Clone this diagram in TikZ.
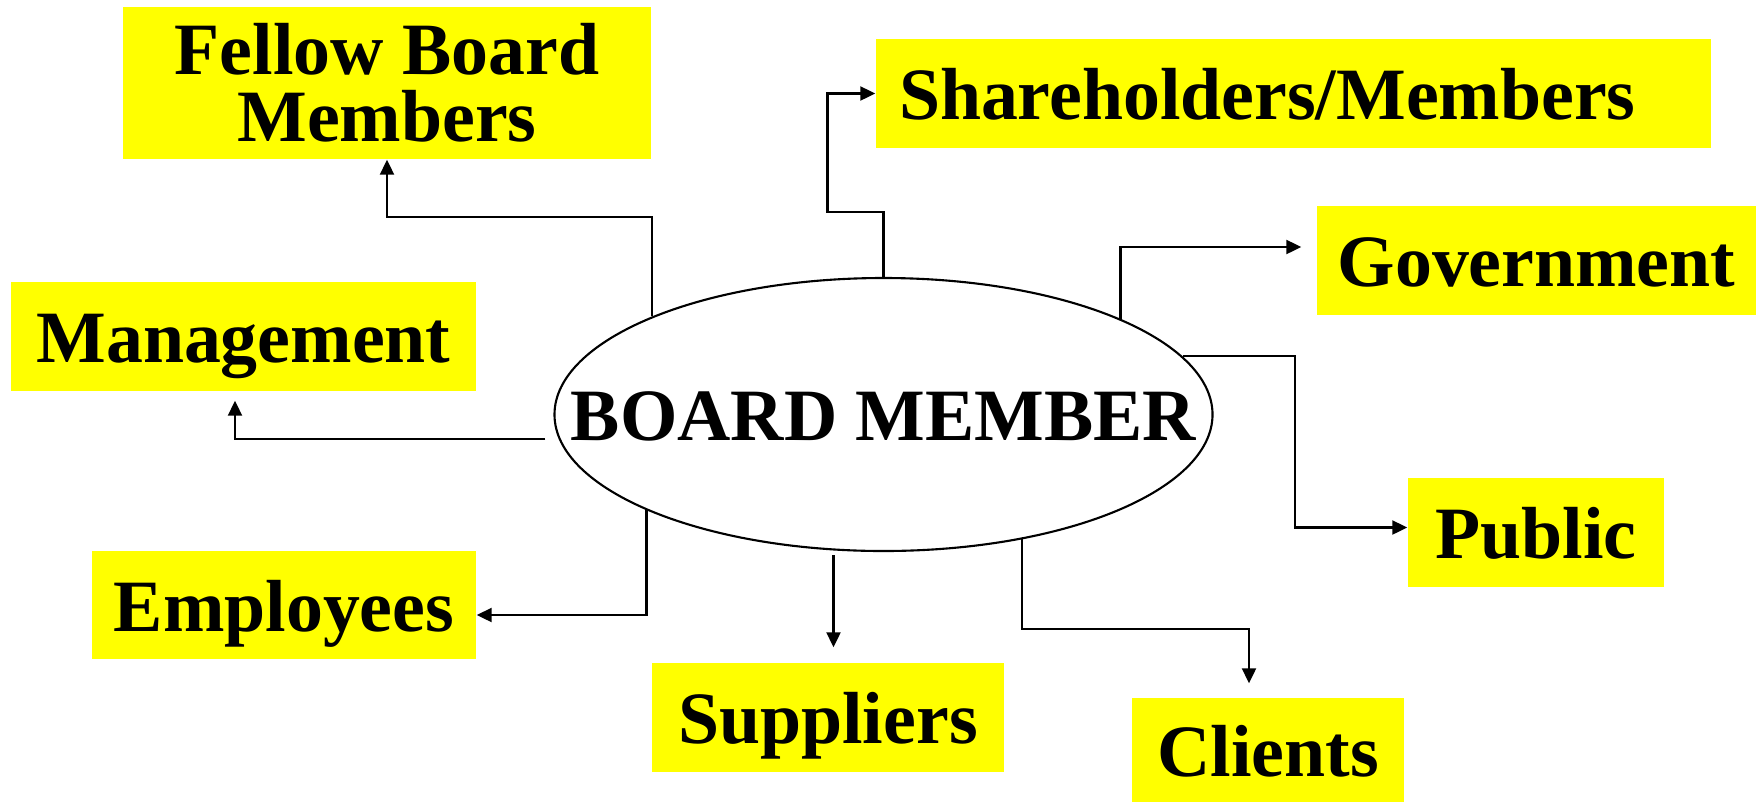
\documentclass[tikz,border=0pt]{standalone}
\usepackage{fontspec}
\setmainfont{Liberation Serif}
\usetikzlibrary{shapes,shapes.geometric,arrows.meta,calc}
\definecolor{boxyellow}{RGB}{255,255,0}
\tikzset{
  stk_box/.style = {fill=boxyellow, inner sep=0pt, align=center, font=\fontsize{21}{19}\selectfont\bfseries, minimum height=1.09cm},
  one_line/.style = {text height=0.6cm, text depth=0.08cm},
  brd_node/.style = {ellipse, draw=black, line width=0.6pt, inner xsep=-0.8cm, inner ysep=0pt, minimum width=6.55cm, minimum height=2.73cm, font=\fontsize{21}{19}\selectfont\bfseries, text height=0.6cm, text depth=0.08cm}
}

\begin{document}
\begin{tikzpicture}
			\tikzstyle{link}=[draw, line width=0.6pt, -{Triangle[length=1.5mm,width=1.4mm]}]
			\useasboundingbox (0,0) rectangle (17.56,-8.02);
			\node[brd_node] (bm) at (8.835,-4.145) {BOARD MEMBER};
			\node[stk_box, minimum width=5.28cm, minimum height=1.52cm] (fellow) at (3.87,-0.83) {Fellow Board\\Members};
			\node[stk_box, one_line, text width=7.89cm, align=left, inner xsep=0.23cm] (share) at (12.935,-0.935) {Shareholders/Members};
			\node[stk_box, one_line, minimum width=4.65cm] (mgmt) at (2.435,-3.365) {Management};
			\node[stk_box, one_line, minimum width=4.39cm] (gov) at (15.365,-2.605) {Government};
			\node[stk_box, one_line, minimum width=2.56cm] (public) at (15.36,-5.325) {Public};
			\node[stk_box, one_line, minimum width=3.84cm, minimum height=1.08cm] (emp) at (2.84,-6.05) {Employees};
			\node[stk_box, one_line, minimum width=3.52cm] (supp) at (8.28,-7.175) {Suppliers};
			\node[stk_box, one_line, minimum width=2.72cm, minimum height=1.04cm] (clients) at (12.68,-7.5) {Clients};
			% connectors
			\draw[link] (bm.157.4) -- ++(0,0.99) -| (fellow.south);
			\draw[link] (bm.north) -- ++(0,0.65) -- ++(-0.56,0) |- (share.west);
			\draw[link] (bm.22.5) |- ([xshift=-0.15cm,yshift=0.135cm]gov.west);
			\draw[link] (bm.11) -- ++(1.12,0) |- ([yshift=0.05cm]public.west);
			\draw[link] (bm.-42.5) -- ++(0,-0.9) -| ([xshift=-0.19cm,yshift=0.14cm]clients.north);
			\coordinate (s0) at ([xshift=-0.5cm,yshift=-0.03cm]bm.south);
			\draw[link] (s0) -- ([yshift=0.15cm]s0 |- supp.north);
			\draw[link] (bm.202.6) |- ([yshift=-0.1cm]emp.east);
			\draw[link] ([xshift=-0.08cm,yshift=-0.245cm]bm.west) -| ([xshift=-0.085cm,yshift=-0.09cm]mgmt.south);
		\end{tikzpicture}
\end{document}
